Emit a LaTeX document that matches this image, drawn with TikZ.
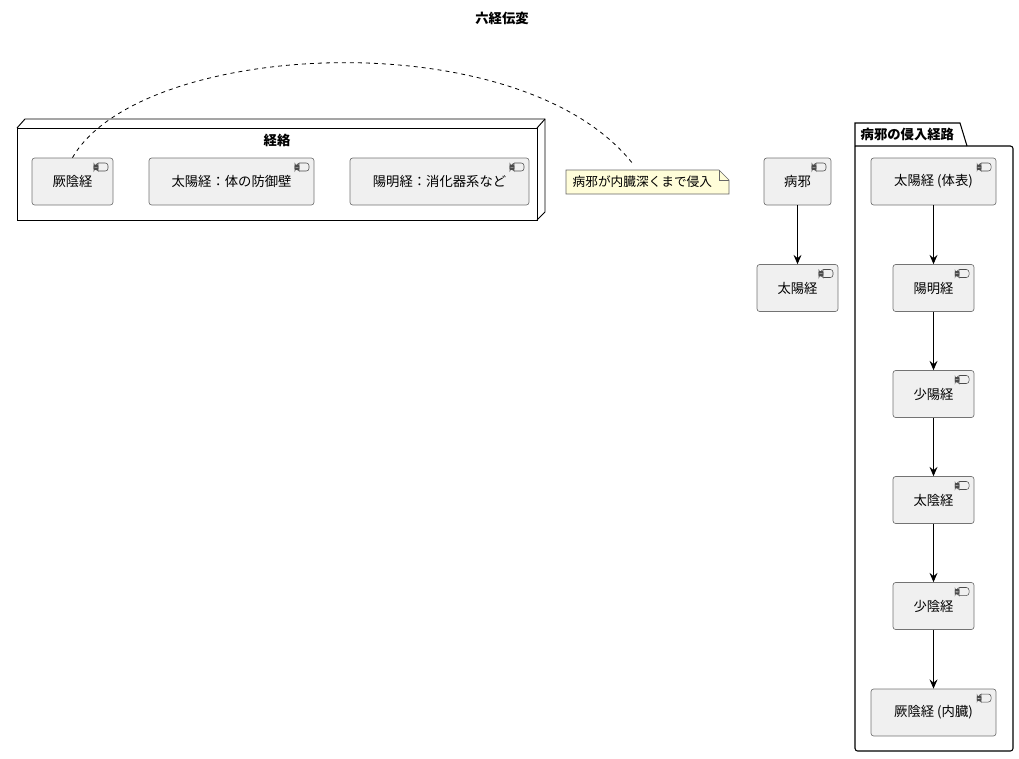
\documentclass[tikz,border=0pt]{standalone}
\usepackage{fontspec}
\setmainfont{Noto Sans CJK JP}
\usetikzlibrary{arrows.meta,positioning}

\tikzset{
  comp/.style={draw=black!55, fill=black!6, rounded corners=2pt, line width=0.5pt,
    minimum height=47*0.75pt, inner xsep=12pt, font=\fontsize{10}{12}\selectfont,
    path picture={
      \draw[black!70, line width=0.4pt, fill=black!6]
        ([xshift=-17*0.75pt, yshift=-5*0.75pt]path picture bounding box.north east) rectangle ++(12*0.75pt,-8*0.75pt);
      \draw[black!70, line width=0.4pt, fill=black!6]
        ([xshift=-19*0.75pt, yshift=-7*0.75pt]path picture bounding box.north east) rectangle ++(4*0.75pt,-1.5*0.75pt);
      \draw[black!70, line width=0.4pt, fill=black!6]
        ([xshift=-19*0.75pt, yshift=-10*0.75pt]path picture bounding box.north east) rectangle ++(4*0.75pt,-1.5*0.75pt);
    }},
  flow/.style={-{Stealth[length=7pt,width=6pt,inset=2.5pt]}, line width=0.6pt},
  bold/.style={font=\bfseries\fontsize{10}{12}\selectfont}
}

\begin{document}
\begin{tikzpicture}[x=0.75pt,y=-0.75pt]
\useasboundingbox (0,0) rectangle (1019,758);
\node[bold] (title) at (502,18) {六経伝変};

% node box
\draw[line width=0.7pt] (17,128) rectangle (537,220);
\draw[line width=0.7pt] (17,128) -- (25,119) -- (545,119) -- (545,212) -- (537,220);
\draw[line width=0.7pt] (537,128) -- (545,119);
\node[bold] (jl) at (277,140) {経絡};
\node[comp, minimum width=81*0.75pt] (kei) at (72.5,181.5) {厥陰経};
\node[comp, minimum width=165*0.75pt] (tai) at (231.5,181.5) {太陽経：体の防御壁};
\node[comp, minimum width=179*0.75pt] (yo) at (439.5,181.5) {陽明経：消化器系など};

% note
\draw[black!60, fill=yellow!15, line width=0.5pt] (566,170) -- (719,170) -- (729,180) -- (729,194) -- (566,194) -- cycle;
\draw[black!60, line width=0.5pt] (719,170) -- (719,180) -- (729,180);
\node[font=\fontsize{9.5}{11}\selectfont, anchor=west] (note) at (568,182) {病邪が内臓深くまで侵入};
\coordinate (nt) at (633,164);
\draw[dashed, line width=0.6pt] (kei.north) .. controls (140,40) and (520,20) .. (nt);

% middle
\node[comp, minimum width=67*0.75pt] (byo) at (797.5,181.5) {病邪};
\node[comp, minimum width=81*0.75pt] (tai2) at (797.5,288) {太陽経};
\draw[flow] (byo) -- (tai2);

% package
\draw[line width=0.8pt] (855,146) -- (855,123) -- (960,123) -- (967,146);
\draw[line width=0.8pt, rounded corners=2pt] (855,146) -- (855,751) -- (1013,751) -- (1013,146) -- (855,146);
\node[bold, anchor=west] (pk) at (856,134) {病邪の侵入経路};
\node[comp, minimum width=125*0.75pt] (p1) at (933.5,181.5) {太陽経 (体表)};
\node[comp, minimum width=81*0.75pt] (p2) at (933.5,288) {陽明経};
\node[comp, minimum width=81*0.75pt] (p3) at (933.5,394) {少陽経};
\node[comp, minimum width=81*0.75pt] (p4) at (933.5,500) {太陰経};
\node[comp, minimum width=81*0.75pt] (p5) at (933.5,606) {少陰経};
\node[comp, minimum width=125*0.75pt] (p6) at (933.5,712.5) {厥陰経 (内臓)};
\foreach \a/\b in {p1/p2,p2/p3,p3/p4,p4/p5,p5/p6}
  \draw[flow] (\a) -- (\b);
\end{tikzpicture}
\end{document}
